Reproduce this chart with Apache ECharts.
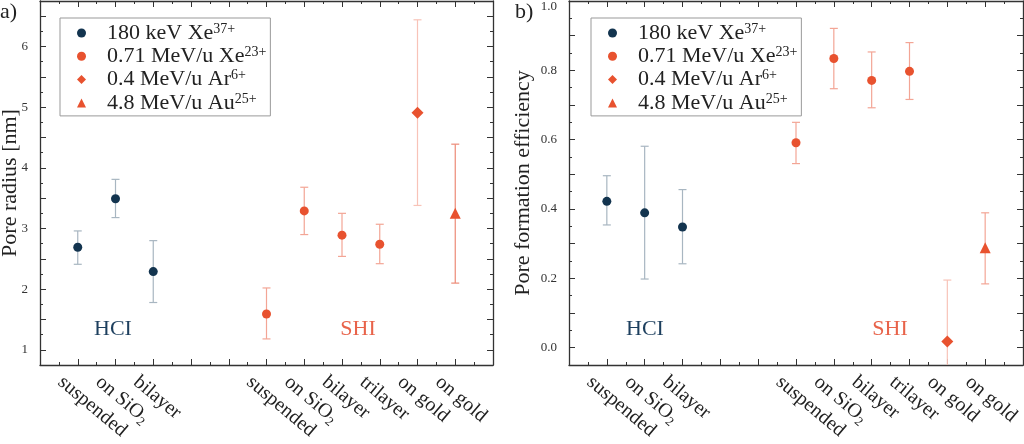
<!DOCTYPE html>
<html>
<head>
<meta charset="utf-8">
<script src="https://cdn.jsdelivr.net/npm/echarts@6/dist/echarts.min.js"></script>
<style>
  html, body { margin: 0; padding: 0; background: #fff; }
  #main { width: 1024px; height: 444px; }
</style>
</head>
<body>
<div id="main"></div>
<script>
// sample slots along the x axis (index = x position), empty = gap
var slots = ['', 'suspended', 'on SiO2', 'bilayer', '', '', 'suspended', 'on SiO2', 'bilayer', 'trilayer', 'on gold', 'on gold', ''];
var hciSlots = [1, 2, 3];
var xeSlots = [6, 7, 8, 9];
var arSlots = [10];
var auSlots = [11];

var seriesNames = ['180 keV Xe37+', '0.71 MeV/u Xe23+', '0.4 MeV/u Ar6+', '4.8 MeV/u Au25+'];
var legendText = {
    '180 keV Xe37+': '{t|180 keV Xe}{sup|37+}',
    '0.71 MeV/u Xe23+': '{t|0.71 MeV/u Xe}{sup|23+}',
    '0.4 MeV/u Ar6+': '{t|0.4 MeV/u Ar}{sup|6+}',
    '4.8 MeV/u Au25+': '{t|4.8 MeV/u Au}{sup|25+}'
};

// a) pore radius [nm]
var radiusHci = [2.69, 3.49, 2.29];
var radiusHciLo = [2.41, 3.18, 1.78];
var radiusHciHi = [2.96, 3.81, 2.80];
var radiusXe = [1.59, 3.29, 2.89, 2.74];
var radiusXeLo = [1.18, 2.90, 2.54, 2.42];
var radiusXeHi = [2.02, 3.68, 3.25, 3.07];
var radiusAr = [4.91];
var radiusArLo = [3.38];
var radiusArHi = [6.44];
var radiusAu = [3.25];
var radiusAuLo = [2.10];
var radiusAuHi = [4.39];

// b) pore formation efficiency
var effHci = [0.422, 0.389, 0.348];
var effHciLo = [0.354, 0.198, 0.242];
var effHciHi = [0.496, 0.581, 0.456];
var effXe = [0.591, 0.834, 0.771, 0.797];
var effXeLo = [0.531, 0.747, 0.692, 0.716];
var effXeHi = [0.650, 0.921, 0.853, 0.880];
var effAr = [0.018];
var effArLo = [-0.16];
var effArHi = [0.195];
var effAu = [0.288];
var effAuLo = [0.184];
var effAuHi = [0.389];

// tick labels
var radiusTicks = [1, 2, 3, 4, 5, 6];
var effTicks = [0, 0.2, 0.4, 0.6, 0.8, 1.0];

var FONT = 'Liberation Serif';
var NAVY = '#13344f';
var ORANGE = '#e8522f';
var AXIS = '#333';
var X_PER_GRID = 5;
var Y_PER_GRID = 4;

function steps(a, b, s) {
    var out = [];
    for (var v = a; v <= b + 1e-9; v += s) out.push(Math.round(v * 1000) / 1000);
    return out;
}

var xMajor = steps(1, 11, 1);
var xMinor = steps(0.5, 11.5, 1);
// labels are split over two axes so that neighbours are never hidden
var labelSlots = [];
slots.forEach(function(s, i) { if (s) labelSlots.push(i); });
var labelsA = labelSlots.filter(function(v, i) { return i % 2 === 0; });
var labelsB = labelSlots.filter(function(v, i) { return i % 2 === 1; });

function tickAxis(grid, pos, min, max, values, len, showLine) {
    return {
        type: 'value', gridIndex: grid, position: pos, min: min, max: max, offset: 0,
        axisLine: { show: showLine, onZero: false, lineStyle: { color: AXIS, width: 1.3 } },
        splitLine: { show: false },
        axisLabel: { show: false },
        axisTick: { show: len > 0, inside: true, length: len, customValues: values,
            lineStyle: { color: AXIS, width: 1 } }
    };
}

function slotLabel(values) {
    return {
        show: true, customValues: values, interval: 0, rotate: -40, margin: -6,
        showMinLabel: true, showMaxLabel: true, hideOverlap: false,
        align: 'left', verticalAlign: 'top', padding: [15, 0, 0, 0],
        fontFamily: FONT, fontSize: 20, color: '#222', lineHeight: 24,
        formatter: function(v) {
            var s = slots[v] || '';
            return s.indexOf('SiO2') >= 0 ? '{t|' + s.replace('SiO2', 'SiO') + '}{sub|2}' : '{t|' + s + '}';
        },
        rich: {
            t: { fontFamily: FONT, fontSize: 20, lineHeight: 24, color: '#222' },
            sub: { fontFamily: FONT, fontSize: 13, lineHeight: 13, color: '#222', verticalAlign: 'bottom' }
        }
    };
}

function xAxesFor(grid) {
    var main = tickAxis(grid, 'bottom', 0, 12, xMajor, 6, true);
    main.axisLabel = slotLabel(labelsA);
    var second = tickAxis(grid, 'bottom', 0, 12, [], 0, false);
    second.axisLabel = slotLabel(labelsB);
    return [main, second,
        tickAxis(grid, 'bottom', 0, 12, xMinor, 3, false),
        tickAxis(grid, 'top', 0, 12, xMajor, 6, true),
        tickAxis(grid, 'top', 0, 12, xMinor, 3, false)];
}

function yAxesFor(grid, min, max, major, minor, labels, fmt, name, gap) {
    var main = tickAxis(grid, 'left', min, max, major, 6, true);
    main.axisLabel = {
        show: true, customValues: labels, margin: 12,
        showMinLabel: true, showMaxLabel: true, hideOverlap: false,
        fontFamily: FONT, fontSize: 13, color: AXIS, formatter: fmt,
        rich: {
            n: { fontFamily: FONT, fontSize: 13, color: AXIS },
            top: { fontFamily: FONT, fontSize: 13, color: AXIS, padding: [11, 0, 0, 0] }
        }
    };
    main.name = name;
    main.nameLocation = 'middle';
    main.nameGap = gap;
    main.nameMoveOverlap = false;
    main.nameTextStyle = { fontFamily: FONT, fontSize: 22, color: '#222' };
    return [main,
        tickAxis(grid, 'left', min, max, minor, 3, false),
        tickAxis(grid, 'right', min, max, major, 6, true),
        tickAxis(grid, 'right', min, max, minor, 3, false)];
}

function errorData(xs, lo, hi) {
    return xs.map(function(x, i) { return [x, lo[i], hi[i]]; });
}
function pointData(xs, ys) {
    return xs.map(function(x, i) { return [x, ys[i]]; });
}

function errorSeries(grid, data, color) {
    return {
        type: 'custom', xAxisIndex: grid * X_PER_GRID, yAxisIndex: grid * Y_PER_GRID, clip: true, z: 1,
        silent: true,
        encode: { x: 0, y: [1, 2] },
        renderItem: function(params, api) {
            var x = api.value(0);
            var pLo = api.coord([x, api.value(1)]);
            var pHi = api.coord([x, api.value(2)]);
            var st = { stroke: color, lineWidth: 1.2 };
            return { type: 'group', children: [
                { type: 'line', shape: { x1: pLo[0], y1: pLo[1], x2: pHi[0], y2: pHi[1] }, style: st },
                { type: 'line', shape: { x1: pLo[0] - 4, y1: pLo[1], x2: pLo[0] + 4, y2: pLo[1] }, style: st },
                { type: 'line', shape: { x1: pHi[0] - 4, y1: pHi[1], x2: pHi[0] + 4, y2: pHi[1] }, style: st }
            ] };
        },
        data: data
    };
}

function markerSeries(grid, name, data, color, symbol, size) {
    return {
        type: 'scatter', name: name, xAxisIndex: grid * X_PER_GRID, yAxisIndex: grid * Y_PER_GRID, z: 2,
        symbol: symbol, symbolSize: size,
        itemStyle: { color: color, opacity: 1 },
        data: data
    };
}

function legendFor(left) {
    return {
        left: left, top: 18, orient: 'vertical',
        data: seriesNames,
        itemWidth: 9, itemHeight: 9, itemGap: 1.3,
        symbolKeepAspect: true,
        padding: [4, 4, 2, 17],
        borderColor: '#999', borderWidth: 1, backgroundColor: '#fff',
        formatter: function(n) { return legendText[n]; },
        textStyle: {
            fontFamily: FONT, fontSize: 22, color: '#222', lineHeight: 22, padding: [0, 0, 0, 16],
            rich: {
                t: { fontFamily: FONT, fontSize: 22, lineHeight: 22, color: '#222' },
                sup: { fontFamily: FONT, fontSize: 14, lineHeight: 14, color: '#222', verticalAlign: 'top' }
            }
        }
    };
}

var fmtRadius = function(v) { return '{n|' + v + '}'; };
var fmtEff = function(v) { return v === 1 ? '{top|1.0}' : '{n|' + v.toFixed(1) + '}'; };

var myChart = echarts.init(document.getElementById('main'));

var option = {
    backgroundColor: '#fff',
    animation: false,
    title: [
        { text: 'a)', left: 0, top: 1, textStyle: { fontFamily: FONT, fontSize: 22, fontWeight: 'normal', color: '#222' }, padding: 0 },
        { text: 'b)', left: 515, top: 1, textStyle: { fontFamily: FONT, fontSize: 22, fontWeight: 'normal', color: '#222' }, padding: 0 }
    ],
    grid: [
        { left: 40, top: 1, width: 453, height: 364, outerBoundsMode: 'none' },
        { left: 569, top: 1, width: 454, height: 364, outerBoundsMode: 'none' }
    ],
    legend: [legendFor(60), legendFor(591)],
    xAxis: xAxesFor(0).concat(xAxesFor(1)),
    yAxis: yAxesFor(0, 0.75, 6.75, steps(1, 6.5, 0.5), steps(1.25, 6.25, 0.5), radiusTicks, fmtRadius, 'Pore radius [nm]', 19)
        .concat(yAxesFor(1, -0.05, 1.0, steps(0, 1, 0.1), steps(0.05, 0.95, 0.1), effTicks, fmtEff, 'Pore formation efficiency', 35)),
    graphic: [
        { type: 'text', x: 113, y: 329, style: { text: 'HCI', font: '22px "Liberation Serif"', fill: '#1d3f5e', align: 'center', verticalAlign: 'middle' } },
        { type: 'text', x: 358, y: 329, style: { text: 'SHI', font: '22px "Liberation Serif"', fill: '#e8634a', align: 'center', verticalAlign: 'middle' } },
        { type: 'text', x: 645, y: 329, style: { text: 'HCI', font: '22px "Liberation Serif"', fill: '#1d3f5e', align: 'center', verticalAlign: 'middle' } },
        { type: 'text', x: 890, y: 329, style: { text: 'SHI', font: '22px "Liberation Serif"', fill: '#e8634a', align: 'center', verticalAlign: 'middle' } }
    ],
    series: [
        errorSeries(0, errorData(hciSlots, radiusHciLo, radiusHciHi), '#a8b6c1'),
        errorSeries(0, errorData(xeSlots, radiusXeLo, radiusXeHi), '#f3a595'),
        errorSeries(0, errorData(arSlots, radiusArLo, radiusArHi), '#f8c3b8'),
        errorSeries(0, errorData(auSlots, radiusAuLo, radiusAuHi), '#ec8a76'),
        markerSeries(0, seriesNames[0], pointData(hciSlots, radiusHci), NAVY, 'circle', 9),
        markerSeries(0, seriesNames[1], pointData(xeSlots, radiusXe), ORANGE, 'circle', 9),
        markerSeries(0, seriesNames[2], pointData(arSlots, radiusAr), ORANGE, 'diamond', 12),
        markerSeries(0, seriesNames[3], pointData(auSlots, radiusAu), ORANGE, 'triangle', 11),

        errorSeries(1, errorData(hciSlots, effHciLo, effHciHi), '#a8b6c1'),
        errorSeries(1, errorData(xeSlots, effXeLo, effXeHi), '#f3a595'),
        errorSeries(1, errorData(arSlots, effArLo, effArHi), '#f8c3b8'),
        errorSeries(1, errorData(auSlots, effAuLo, effAuHi), '#f3a595'),
        markerSeries(1, seriesNames[0], pointData(hciSlots, effHci), NAVY, 'circle', 9),
        markerSeries(1, seriesNames[1], pointData(xeSlots, effXe), ORANGE, 'circle', 9),
        markerSeries(1, seriesNames[2], pointData(arSlots, effAr), ORANGE, 'diamond', 12),
        markerSeries(1, seriesNames[3], pointData(auSlots, effAu), ORANGE, 'triangle', 11)
    ]
};

myChart.setOption(option);

window.onresize = function() {
    myChart.resize();
};
</script>
</body>
</html>
